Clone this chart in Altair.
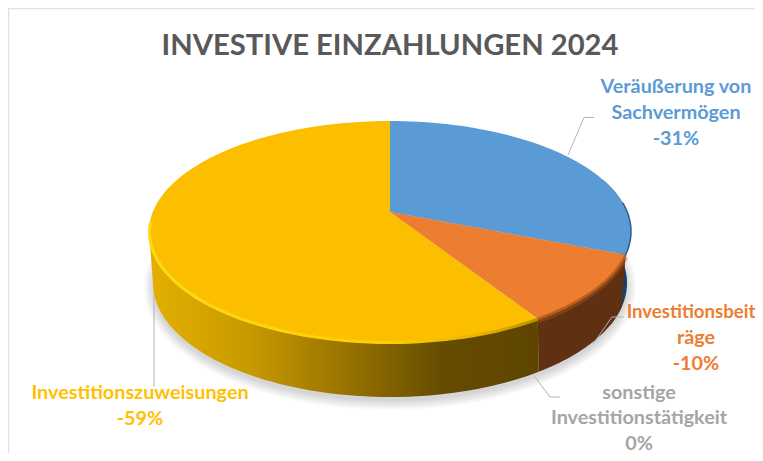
import math
import altair as alt
import pandas as pd

# ---- values
categories = ["Veräußerung von Sachvermögen", "Investitionsbeiträge", "sonstige Investitionstätigkeit", "Investitionszuweisungen"]
shares = [31, 10, 0, 59]
title_text = "INVESTIVE EINZAHLUNGEN 2024"
label_lines = [
    ["Veräußerung von", "Sachvermögen", "-31%"],
    ["Investitionsbeit", "räge", "-10%"],
    ["sonstige", "Investitionstätigkeit", "0%"],
    ["Investitionszuweisungen", "-59%"],
]
label_colors = ["#5b9bd5", "#ed7d31", "#a5a5a5", "#ffc000"]
label_x = [[676, 676, 676], [691, 696, 696], [639, 639, 639], [140, 140]]
label_y = [[87, 113, 139], [312, 338, 364], [393, 418, 444], [393, 419]]
label_size = [[19.8, 19.8, 19.8], [18.6, 19.8, 19.8], [19.8, 19.8, 19.8], [19.8, 19.8]]

# ---- drawing frame: data units equal page pixels
X0, X1, Y0, Y1 = 8, 755, 8, 453
TOP = (390, 231.5, 241, 110.5)     # centre x, y, semi-axes of the top face
BOT = (390, 283, 237, 114)         # same for the lower rim
APEX = (390, 212)

x_enc = alt.X("x:Q", axis=None, scale=alt.Scale(domain=[X0, X1], nice=False, zero=False))
y_enc = alt.Y("y:Q", axis=None, scale=alt.Scale(domain=[Y1, Y0], nice=False, zero=False))


def on_ellipse(e, deg):
    t = math.radians(deg)
    return (e[0] + e[2] * math.sin(t), e[1] - e[3] * math.cos(t))


def rim_param(pie_deg):
    """Parametric ellipse angle where the slice edge for pie_deg meets the rim."""
    t = math.radians(pie_deg)
    dx, dy = TOP[2] * math.sin(t), -TOP[3] * math.cos(t)
    ux, uy = dx / TOP[2], dy / TOP[3]
    px, py = (APEX[0] - TOP[0]) / TOP[2], (APEX[1] - TOP[1]) / TOP[3]
    a = ux * ux + uy * uy
    b = 2 * (ux * px + uy * py)
    c = px * px + py * py - 1
    s = (-b + math.sqrt(b * b - 4 * a * c)) / (2 * a)
    qx, qy = px + s * ux, py + s * uy
    return math.degrees(math.atan2(qx, -qy)) % 360


def arc(e, a, b, n=60):
    return [on_ellipse(e, a + (b - a) * i / n) for i in range(n + 1)]


def frame(pts):
    return pd.DataFrame({"x": [p[0] for p in pts], "y": [p[1] for p in pts], "i": range(len(pts))})


def poly(pts, **kw):
    closed = list(pts) + [pts[0]]
    return alt.Chart(frame(closed)).mark_line(stroke="transparent", strokeWidth=0, **kw).encode(
        x=x_enc, y=y_enc, order=alt.Order("i:Q"))


def stroke(pts, **kw):
    return alt.Chart(frame(pts)).mark_line(**kw).encode(x=x_enc, y=y_enc, order=alt.Order("i:Q"))


def grad(*stops):
    return alt.LinearGradient(gradient="linear", x1=0, x2=1, y1=0, y2=0,
                              stops=[alt.GradientStop(offset=o, color=c) for o, c in stops])


# slice boundaries
cum = [0]
for v in shares:
    cum.append(cum[-1] + v)
b_deg = [c * 3.6 for c in cum]
t1 = rim_param(b_deg[1])
t2 = rim_param(b_deg[2])

layers = []

# chart frame
border = "#e2e2e2"
layers.append(stroke([(8.5, 453), (8.5, 8.5), (755, 8.5)], color=border, strokeWidth=1.5))

# soft shadow
for k in range(7):
    e = (BOT[0], BOT[1] + 4, BOT[2] + 9 - k * 1.5, BOT[3] + 9 - k * 1.5)
    layers.append(poly(arc(e, 0, 360, 120), fill="#000000", fillOpacity=0.025))

# sides
layers.append(poly(arc(TOP, 62, t1) + arc(BOT, 112, 62), fill="#1d3f66"))
layers.append(poly(arc(TOP, t1, t2) + arc(BOT, t2 - 1, t1), fill="#5f3012"))
layers.append(poly(arc(TOP, t2, 270) + arc(BOT, 270, t2 - 1),
                   fill=grad((0, "#e3b000"), (0.25, "#c99a00"), (0.55, "#8f6c00"), (0.75, "#664c00"), (1, "#5e4500"))))

# soft lip under the rim
layers.append(stroke(arc((TOP[0], TOP[1] + 2, TOP[2], TOP[3]), t1, t2), strokeWidth=5, color="#a9561f", opacity=0.45))

# top face
layers.append(poly([APEX] + arc(TOP, 0, t1), fill="#5b9bd5"))
layers.append(poly([APEX] + arc(TOP, t1, t2), fill="#ed7d31"))
layers.append(poly([APEX] + arc(TOP, t2, 360, 120), fill="#fcbf00"))

# rim highlights and dark edge
layers.append(stroke(arc((TOP[0], TOP[1] + 0.5, TOP[2] - 0.5, TOP[3]), t2, 275), strokeWidth=3,
                     stroke=grad((0, "#ffd81a"), (0.6, "#ffd000"), (0.85, "#e8b400"), (1, "#b89000"))))
layers.append(stroke(arc(TOP, t1, t2), strokeWidth=2.5, color="#b9601f"))
layers.append(stroke(arc(TOP, 75, t1), strokeWidth=1.5, color="#2c5f93"))

# leader lines
leaders = [
    [(568, 155), (584, 117.5), (594, 117.5)],
    [(593, 344), (612, 317), (624, 317)],
    [(535, 377), (550, 397), (560, 397)],
    [(154, 295), (154, 387)],
]
for pts in leaders:
    layers.append(stroke(pts, color="#b3b3b3", strokeWidth=1))

# labels
rows = []
for lines, col, xs, ys, ss in zip(label_lines, label_colors, label_x, label_y, label_size):
    for line, xx, yy, sz in zip(lines, xs, ys, ss):
        rows.append({"x": xx, "y": yy, "t": line, "c": col, "s": sz})
layers.append(alt.Chart(pd.DataFrame(rows)).mark_text(
    font="Lato", fontWeight="bold", align="center", baseline="middle"
).encode(x=x_enc, y=y_enc, text="t:N", color=alt.Color("c:N", scale=None),
         size=alt.Size("s:Q", scale=None)))

# title
layers.append(alt.Chart(pd.DataFrame({"x": [390], "y": [46], "t": [title_text]})).mark_text(
    font="Lato", fontWeight="bold", fontSize=29.2, align="center", baseline="middle", color="#595959"
).encode(x=x_enc, y=y_enc, text="t:N"))

chart = alt.layer(*layers).properties(
    width=X1 - X0, height=Y1 - Y0, padding=0,
    autosize=alt.AutoSizeParams(type="none"), background="white",
).configure_view(stroke=None)

chart.save("out.html", embed_options={"renderer": "svg", "actions": False})
